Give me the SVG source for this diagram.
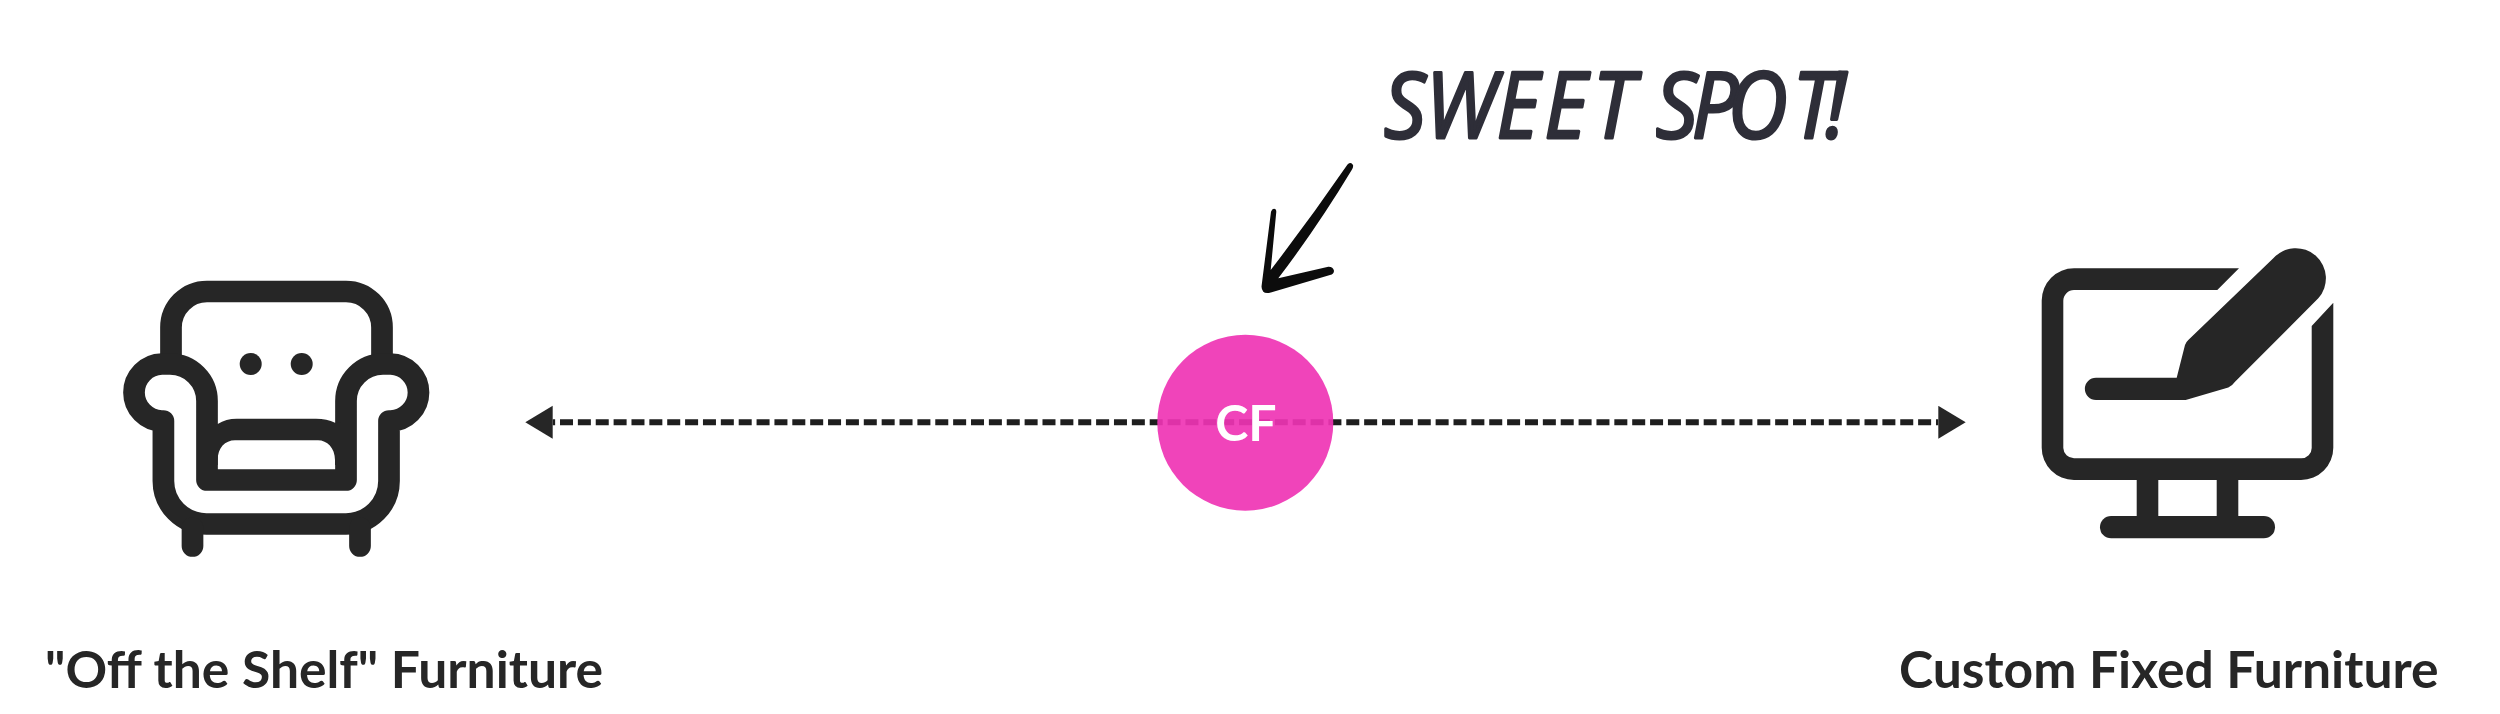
<svg xmlns="http://www.w3.org/2000/svg" width="2500" height="714" viewBox="0 0 2500 714">
<style>
.ink{fill:#262626}
.line{fill:none;stroke:#262626;stroke-width:21.7;stroke-linecap:round;stroke-linejoin:round}
.label{font-family:"Lato","Liberation Sans",sans-serif;font-weight:700;font-size:51.600px;fill:#262626}
</style>
<defs>
<marker id="tri" markerUnits="userSpaceOnUse" markerWidth="28" markerHeight="34" refX="0" refY="16.500" orient="auto-start-reverse"><path d="M0 0L27.400 16.500L0 33Z" fill="#262626"/></marker>
</defs>
<rect width="2500" height="714" fill="#fff"/>
<g id="connectors">
<path d="M552.700 422.300H1938.300" fill="none" stroke="#1e1e1e" stroke-width="6" stroke-dasharray="13 4.870" stroke-dashoffset="10.570" marker-start="url(#tri)" marker-end="url(#tri)"/>
</g>
<g id="armchair">
<path class="line" d="M171 360V327.500a36 36 0 0 1 36-36H346a36 36 0 0 1 36 36V360"/>
<path class="line" d="M163.400 421H162a28.500 28.500 0 0 1 -28 -28.500a28.500 28.500 0 0 1 28 -28.500H170a37 37 0 0 1 37 37V480H346V401a37 37 0 0 1 37-37H390.500a28.500 28.500 0 0 1 28 28.500a28.500 28.500 0 0 1 -28 28.500H389V481a43 43 0 0 1 -43 43H206.400a43 43 0 0 1 -43-43Z"/>
<path class="ink" d="M212 424H217.700Q226 418.700 236.700 418.700H316Q327 418.700 335 422.700H341V465H335V460C335 448 327 440.300 318 440.300H235C225 440.300 217.700 448 217.700 460V465H212Z"/>
<path class="line" d="M192.500 528V546M360 528V546"/>
<circle class="ink" cx="250.700" cy="364" r="11"/>
<circle class="ink" cx="301.700" cy="364" r="11"/>
</g>
<g id="monitor">
<path class="ink" fill-rule="evenodd" d="M2239 268.300H2074a32.300 32.300 0 0 0 -32.300 32.300V447.700a32.300 32.300 0 0 0 32.300 32.300H2301a32.300 32.300 0 0 0 32.300-32.300V302.700L2311.700 326V448a10.300 10.300 0 0 1 -10.300 10.300H2074a10.700 10.700 0 0 1 -10.700-10.300V300.700a10.700 10.700 0 0 1 10.700-10.700H2217.300Z"/>
<rect class="ink" x="2136.700" y="478" width="21.600" height="40"/>
<rect class="ink" x="2216.700" y="478" width="21.600" height="40"/>
<rect class="ink" x="2100" y="516" width="175" height="22.300" rx="11.150"/>
<path class="ink" d="M2273.300 258.300L2188.300 340Q2186 342 2185 345L2176.700 377.700H2096a11.150 11.150 0 0 0 0 22.300H2185.700L2228.300 387.500Q2232 386 2235 381.700L2318.300 298.300A30 30 0 0 0 2273.300 258.300Z"/>
</g>
<g id="cf">
<circle cx="1245.300" cy="422.700" r="88" fill="#EF34B4" fill-opacity="0.92"/>
<text x="1246" y="441" text-anchor="middle" font-family="Lato,'Liberation Sans',sans-serif" font-weight="700" font-size="50" fill="#fff">CF</text>
</g>
<g id="sweet-spot">
<text transform="translate(1384 138) scale(.9 1)" x="0 46 125 178 232 270 302 342 382 454 490" y="0" font-family="'Open Sans','Liberation Sans',sans-serif" font-style="italic" font-size="92" fill="#2e2e38" stroke="#2e2e38" stroke-width="3" stroke-linejoin="round">SWEET SPOT!</text>
</g>
<g id="hand-arrow">
<path d="M1347.500 164.500Q1351 161.500 1353 165Q1353.500 167 1352 169.500Q1318 226 1278.300 278.300L1328.300 266.700Q1333 266.500 1334 270.700Q1334 274 1330 275L1270 292.700Q1265 293.500 1263.300 291.700Q1261 289 1261.700 285L1271 211.700Q1272 208.700 1274 208.700Q1276.300 208.700 1276.300 211.700L1270.700 270Q1310 219 1347.500 164.500Z" fill="#0c0c0c"/>
</g>
<g id="labels">
<text class="label" x="45" y="688">"Off the Shelf" Furniture</text>
<text class="label" x="1899" y="688">Custom Fixed Furniture</text>
</g>
</svg>
